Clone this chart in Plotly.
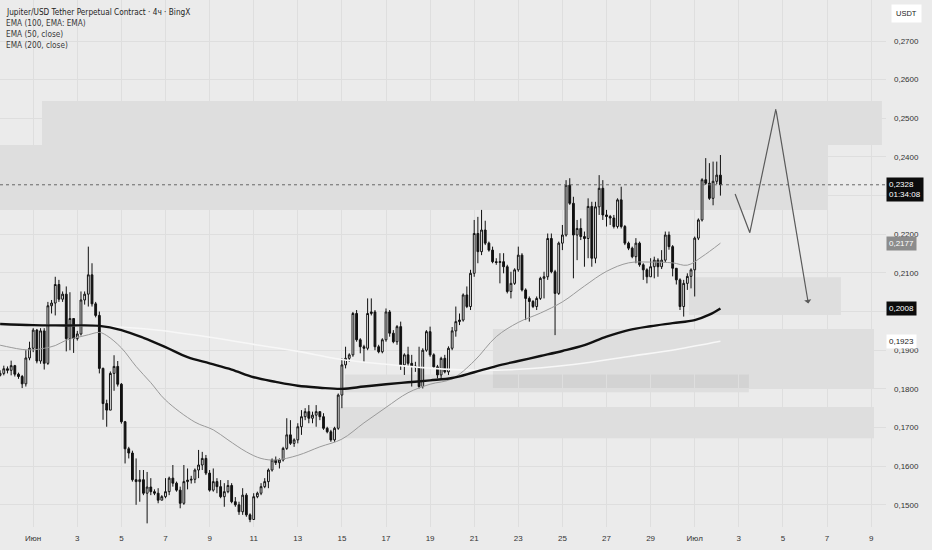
import pandas as pd
import plotly.graph_objects as go

# ── Data: JUP/USDT perp, 4h candles ───────────────────────────────────────────
start = "2024-05-30 12:00"
first_open = 0.1835

closes = [
    0.1840, 0.1852, 0.1848,
    0.1860, 0.1838, 0.1832, 0.1813, 0.1880, 0.1905,
    0.1952, 0.1872, 0.1950, 0.1866, 0.2015, 0.2022,
    0.2070, 0.2032, 0.2045, 0.1930, 0.1982, 0.1930,
    0.1942, 0.2030, 0.2045, 0.2095, 0.2020, 0.1990,
    0.1853, 0.1762, 0.1745, 0.1840, 0.1858, 0.1812,
    0.1715, 0.1645, 0.1634, 0.1565, 0.1560, 0.1565,
    0.1530, 0.1546, 0.1534, 0.1530, 0.1512, 0.1521,
    0.1534, 0.1569, 0.1556, 0.1538, 0.1504, 0.1560,
    0.1564, 0.1566, 0.1590, 0.1603, 0.1620, 0.1582,
    0.1538, 0.1560, 0.1547, 0.1521, 0.1534, 0.1550,
    0.1508, 0.1500, 0.1482, 0.1525, 0.1474, 0.1462,
    0.1521, 0.1530, 0.1547, 0.1560, 0.1590, 0.1616,
    0.1609, 0.1616, 0.1646, 0.1681, 0.1659, 0.1668,
    0.1702, 0.1728, 0.1741, 0.1724, 0.1732, 0.1741,
    0.1728, 0.1698, 0.1689, 0.1668, 0.1698, 0.1784,
    0.1862, 0.1879, 0.1888, 0.1995, 0.1927, 0.1909,
    0.1905, 0.1995, 0.1999, 0.1909, 0.1896, 0.1927,
    0.1999, 0.1944, 0.1922, 0.1961, 0.1862, 0.1888,
    0.1866, 0.1859, 0.1857, 0.1806, 0.1900, 0.1948,
    0.1888, 0.1857, 0.1836, 0.1879, 0.1844, 0.1905,
    0.1950, 0.1974, 0.1978, 0.2043, 0.2013, 0.2099,
    0.2202, 0.2155, 0.2211, 0.2177, 0.2159, 0.2129,
    0.2127, 0.2129, 0.2116, 0.2052, 0.2073, 0.2108,
    0.2146, 0.2056, 0.2034, 0.2026, 0.2013, 0.2034,
    0.2086, 0.2090, 0.2189, 0.2103, 0.2047, 0.2177,
    0.2198, 0.2327, 0.2280, 0.2198, 0.2215, 0.2194,
    0.2189, 0.2272, 0.2138, 0.2271, 0.2319, 0.2250,
    0.2246, 0.2242, 0.2220, 0.2289, 0.2220, 0.2177,
    0.2164, 0.2142, 0.2177, 0.2121, 0.2108, 0.2090,
    0.2116, 0.2133, 0.2116, 0.2133, 0.2198, 0.2168,
    0.2112, 0.2082, 0.2013, 0.2073, 0.2091, 0.2108,
    0.2190, 0.2237, 0.2341, 0.2332, 0.2293, 0.2337,
    0.2353, 0.2328,
]

highs = [
    0.1848, 0.1860, 0.1858,
    0.1873, 0.1862, 0.1842, 0.1836, 0.1900, 0.1922,
    0.1957, 0.1955, 0.1957, 0.1957, 0.2025, 0.2030,
    0.2090, 0.2082, 0.2052, 0.2065, 0.2050, 0.1982,
    0.1950, 0.2052, 0.2052, 0.2168, 0.2125, 0.2025,
    0.2000, 0.1855, 0.1772, 0.1845, 0.1887, 0.1872,
    0.1815, 0.1717, 0.1650, 0.1640, 0.1620, 0.1590,
    0.1590, 0.1585, 0.1569, 0.1540, 0.1543, 0.1525,
    0.1569, 0.1573, 0.1603, 0.1560, 0.1547, 0.1603,
    0.1594, 0.1575, 0.1594, 0.1642, 0.1637, 0.1629,
    0.1590, 0.1594, 0.1569, 0.1564, 0.1556, 0.1564,
    0.1556, 0.1520, 0.1508, 0.1543, 0.1530, 0.1478,
    0.1530, 0.1534, 0.1556, 0.1569, 0.1594, 0.1620,
    0.1625, 0.1620, 0.1650, 0.1724, 0.1719, 0.1672,
    0.1711, 0.1745, 0.1750, 0.1758, 0.1741, 0.1758,
    0.1741, 0.1737, 0.1702, 0.1694, 0.1702, 0.1788,
    0.1879, 0.1909, 0.1892, 0.1999, 0.2004, 0.1931,
    0.1914, 0.2034, 0.2034, 0.2004, 0.1914, 0.1931,
    0.2008, 0.2004, 0.1952, 0.1965, 0.1974, 0.1892,
    0.1909, 0.1888, 0.1870, 0.1909, 0.1905, 0.1952,
    0.1961, 0.1892, 0.1862, 0.1883, 0.1888, 0.1910,
    0.1960, 0.2013, 0.1995, 0.2047, 0.2065, 0.2108,
    0.2237, 0.2245, 0.2263, 0.2235, 0.2181, 0.2168,
    0.2138, 0.2151, 0.2151, 0.2121, 0.2103, 0.2112,
    0.2168, 0.2151, 0.2060, 0.2039, 0.2030, 0.2039,
    0.2090, 0.2103, 0.2202, 0.2202, 0.2108, 0.2181,
    0.2224, 0.2340, 0.2345, 0.2297, 0.2237, 0.2241,
    0.2207, 0.2293, 0.2284, 0.2284, 0.2353, 0.2340,
    0.2263, 0.2250, 0.2250, 0.2293, 0.2323, 0.2224,
    0.2181, 0.2168, 0.2190, 0.2181, 0.2125, 0.2112,
    0.2138, 0.2142, 0.2138, 0.2159, 0.2207, 0.2207,
    0.2172, 0.2112, 0.2086, 0.2082, 0.2099, 0.2112,
    0.2194, 0.2241, 0.2345, 0.2397, 0.2384, 0.2388,
    0.2388, 0.2405,
]

lows = [
    0.1832, 0.1835, 0.1840,
    0.1835, 0.1832, 0.1826, 0.1802, 0.1806, 0.1874,
    0.1895, 0.1866, 0.1865, 0.1850, 0.1862, 0.1995,
    0.1990, 0.2025, 0.2025, 0.1897, 0.1900, 0.1893,
    0.1925, 0.1938, 0.2018, 0.2013, 0.2013, 0.1985,
    0.1840, 0.1720, 0.1702, 0.1745, 0.1795, 0.1806,
    0.1710, 0.1607, 0.1620, 0.1560, 0.1500, 0.1508,
    0.1525, 0.1452, 0.1525, 0.1525, 0.1504, 0.1512,
    0.1517, 0.1525, 0.1547, 0.1534, 0.1491, 0.1500,
    0.1540, 0.1555, 0.1556, 0.1569, 0.1590, 0.1577,
    0.1534, 0.1534, 0.1530, 0.1517, 0.1495, 0.1530,
    0.1504, 0.1495, 0.1474, 0.1474, 0.1469, 0.1455,
    0.1461, 0.1517, 0.1525, 0.1543, 0.1543, 0.1586,
    0.1603, 0.1594, 0.1612, 0.1642, 0.1655, 0.1650,
    0.1659, 0.1681, 0.1719, 0.1711, 0.1711, 0.1702,
    0.1719, 0.1694, 0.1685, 0.1663, 0.1663, 0.1694,
    0.1750, 0.1853, 0.1870, 0.1883, 0.1922, 0.1892,
    0.1870, 0.1900, 0.1990, 0.1900, 0.1892, 0.1892,
    0.1922, 0.1935, 0.1918, 0.1914, 0.1849, 0.1836,
    0.1857, 0.1806, 0.1844, 0.1801, 0.1801, 0.1896,
    0.1883, 0.1853, 0.1827, 0.1823, 0.1840, 0.1836,
    0.1900, 0.1935, 0.1965, 0.1974, 0.2009, 0.2004,
    0.2090, 0.2125, 0.2146, 0.2172, 0.2155, 0.2125,
    0.2121, 0.2073, 0.2099, 0.2047, 0.2034, 0.2069,
    0.2103, 0.2052, 0.1978, 0.1974, 0.2009, 0.2004,
    0.2030, 0.2034, 0.2082, 0.2099, 0.1939, 0.2043,
    0.2159, 0.2194, 0.2276, 0.2086, 0.2133, 0.2185,
    0.2116, 0.2138, 0.2116, 0.2125, 0.2250, 0.2237,
    0.2220, 0.2224, 0.2215, 0.2215, 0.2215, 0.2172,
    0.2159, 0.2138, 0.2125, 0.2116, 0.2082, 0.2073,
    0.2090, 0.2086, 0.2090, 0.2110, 0.2128, 0.2160,
    0.2091, 0.2070, 0.2004, 0.1987, 0.2056, 0.2060,
    0.2039, 0.2185, 0.2233, 0.2328, 0.2289, 0.2275,
    0.2330, 0.2300,
]

# EMA values at some bars (bar index from the first candle)
ema100_bar = [0, 9, 18, 27, 33, 39, 45, 51, 57, 63, 69, 75, 81, 87, 93, 99, 105,
              111, 117, 123, 129, 135, 141, 147, 153, 159, 165, 171, 177, 183, 189, 193, 196]
ema100 = [0.1968, 0.1965, 0.1964, 0.1963, 0.1952, 0.1932, 0.1908, 0.1882, 0.1866,
          0.1850, 0.1830, 0.1818, 0.1808, 0.1803, 0.1800, 0.1806, 0.1812, 0.1817,
          0.1822, 0.1828, 0.1843, 0.1859, 0.1872, 0.1885, 0.1898, 0.1913, 0.1935,
          0.1952, 0.1962, 0.1970, 0.1978, 0.1992, 0.2008]

ema50_bar = [0, 3, 6, 9, 12, 15, 18, 21, 24, 27, 29, 33, 37, 41, 45, 53, 58, 62,
             67, 71, 75, 81, 87, 93, 99, 105, 111, 117, 123, 129, 135, 141, 147,
             153, 159, 165, 171, 177, 183, 187, 191, 196]
ema50 = [0.1913, 0.1907, 0.1902, 0.1901, 0.1905, 0.1912, 0.1926, 0.1933, 0.1940,
         0.1946, 0.1938, 0.1906, 0.1858, 0.1816, 0.1771, 0.1714, 0.1694, 0.1668,
         0.1637, 0.1620, 0.1616, 0.1628, 0.1650, 0.1670, 0.1712, 0.1752, 0.1790,
         0.1812, 0.1826, 0.1872, 0.1935, 0.1972, 0.1996, 0.2025, 0.2066, 0.2104,
         0.2126, 0.2128, 0.2126, 0.2120, 0.2142, 0.2177]

ema200_bar = [0, 27, 40, 54, 69, 81, 93, 109, 125, 140, 156, 172, 184, 196]
ema200 = [0.1966, 0.1962, 0.1955, 0.1938, 0.1915, 0.1897, 0.1876, 0.1860, 0.1849,
          0.1850, 0.1863, 0.1885, 0.1902, 0.1923]

# drawn zones (time from, time to, price low, price high)
zone_from = ["2024-06-01 09:35", "2024-05-29 00:00", "2024-06-30 17:45",
             "2024-06-21 20:25", "2024-06-15 03:20", "2024-06-14 21:50"]
zone_to = ["2024-07-09 11:50", "2024-07-07 01:00", "2024-07-07 15:10",
           "2024-07-09 03:10", "2024-07-03 11:00", "2024-07-09 03:10"]
zone_low = [0.2431, 0.2263, 0.1991, 0.1800, 0.1791, 0.1672]
zone_high = [0.2545, 0.2431, 0.2089, 0.1955, 0.1837, 0.1753]

# projected path drawing
path_time = ["2024-07-02 20:00", "2024-07-03 12:00", "2024-07-04 16:20", "2024-07-06 03:40"]
path_price = [0.2304, 0.2204, 0.2524, 0.2021]

x_tickvals = ["2024-06-01", "2024-06-03", "2024-06-05", "2024-06-07", "2024-06-09",
              "2024-06-11", "2024-06-13", "2024-06-15", "2024-06-17", "2024-06-19",
              "2024-06-21", "2024-06-23", "2024-06-25", "2024-06-27", "2024-06-29",
              "2024-07-01", "2024-07-03", "2024-07-05", "2024-07-07", "2024-07-09"]
x_ticktext = ["Июн", "3", "5", "7", "9", "11", "13", "15", "17", "19", "21", "23",
              "25", "27", "29", "Июл", "3", "5", "7", "9"]
y_tickvals = [0.15, 0.16, 0.17, 0.18, 0.19, 0.20, 0.21, 0.22, 0.23, 0.24, 0.25, 0.26, 0.27]
# 0,2000 and 0,2300 sit under the price tags on the scale
y_ticktext = ["0,1500", "0,1600", "0,1700", "0,1800", "0,1900", "", "0,2100", "0,2200",
              "", "0,2400", "0,2500", "0,2600", "0,2700"]

legend_lines = ["Jupiter/USD Tether Perpetual Contract · 4ч · BingX",
                "EMA (100, EMA: EMA)", "EMA (50, close)", "EMA (200, close)"]

# ── Build ─────────────────────────────────────────────────────────────────────
times = pd.date_range(start, periods=len(closes), freq="4h")
opens = [first_open] + closes[:-1]

BG = "#ebebeb"
GRID = "#dedede"
TXT = "#333333"
FONT = "Liberation Sans, Arial, sans-serif"
NARROW = "DejaVu Sans Condensed, Liberation Sans, sans-serif"

fig = go.Figure()

for t0, t1, lo, hi in zip(zone_from, zone_to, zone_low, zone_high):
    fig.add_shape(type="rect", xref="x", yref="y", x0=t0, x1=t1, y0=lo, y1=hi,
                  fillcolor="rgba(140,140,140,0.13)", line_width=0, layer="below")

fig.add_candlestick(
    x=times, open=opens, high=highs, low=lows, close=closes,
    increasing=dict(fillcolor="#ffffff", line=dict(color="#111111", width=1)),
    decreasing=dict(fillcolor="#111111", line=dict(color="#111111", width=1)),
    whiskerwidth=0, showlegend=False, hoverinfo="skip",
)

fig.add_scatter(x=[times[i] for i in ema200_bar], y=ema200, mode="lines",
                line=dict(color="#f7f7f7", width=1.6, shape="spline"), showlegend=False)
fig.add_scatter(x=[times[i] for i in ema50_bar], y=ema50, mode="lines",
                line=dict(color="#9a9a9a", width=1, shape="spline"), showlegend=False)
fig.add_scatter(x=[times[i] for i in ema100_bar], y=ema100, mode="lines",
                line=dict(color="#111111", width=2.4, shape="spline"), showlegend=False)

# projected path + arrow on the last leg
fig.add_scatter(x=path_time[:3], y=path_price[:3], mode="lines",
                line=dict(color="#5a5a5a", width=1.2), showlegend=False)
fig.add_annotation(x=path_time[3], y=path_price[3], ax=path_time[2], ay=path_price[2],
                   xref="x", yref="y", axref="x", ayref="y", text="", showarrow=True,
                   arrowhead=1, arrowsize=1, arrowwidth=1.2, arrowcolor="#5a5a5a")

# last price dotted line
fig.add_shape(type="line", xref="paper", yref="y", x0=0, x1=1,
              y0=closes[-1], y1=closes[-1], line=dict(color="#666666", width=1, dash="dot"))

# legend text top-left
for i, line in enumerate(legend_lines):
    fig.add_annotation(xref="paper", yref="paper", x=0, y=1, xanchor="left", yanchor="middle",
                       xshift=4, yshift=-11.5 - 11.3 * i, text=line, showarrow=False,
                       font=dict(family=NARROW, size=8.2, color="#1e1e1e" if i == 0 else "#3a3a3a"))

# price labels on the right scale
def price_tag(price, text, bg, fg, yshift=0):
    fig.add_annotation(xref="paper", yref="y", x=1, y=price, xanchor="left", yanchor="middle",
                       xshift=0, yshift=yshift, text=text, showarrow=False, bgcolor=bg,
                       borderpad=2, align="left", font=dict(family=FONT, size=8, color=fg))

price_tag(closes[-1], "0,2328<br>01:34:08", "#0c0c0c", "#ffffff", yshift=-5)
price_tag(ema50[-1], "0,2177", "#8c8c8c", "#ffffff")
price_tag(ema100[-1], "0,2008", "#0c0c0c", "#ffffff")
price_tag(ema200[-1], "0,1923", "#ffffff", "#222222")

fig.add_annotation(xref="paper", yref="paper", x=1, y=1, xanchor="left", yanchor="top",
                   xshift=5, yshift=-4, text="USDT", showarrow=False, bgcolor="#ffffff",
                   borderpad=4, font=dict(family=FONT, size=7.5, color="#222222"))

fig.update_xaxes(
    type="date", range=["2024-05-30 11:52", "2024-07-09 16:13"],
    tickvals=x_tickvals, ticktext=x_ticktext, showgrid=True, gridcolor=GRID, gridwidth=1,
    zeroline=False, showline=False, ticks="", rangeslider_visible=False,
    ticklabelstandoff=5, tickfont=dict(family=FONT, size=8, color=TXT),
)
fig.update_yaxes(
    side="right", range=[0.14426, 0.28061], tickvals=y_tickvals, ticktext=y_ticktext,
    showgrid=True, gridcolor=GRID, gridwidth=1, zeroline=False, showline=False, ticks="",
    ticklabelstandoff=7, tickfont=dict(family=FONT, size=8, color=TXT),
)
fig.update_layout(
    width=932, height=550, margin=dict(l=0, r=46, t=0, b=23),
    paper_bgcolor=BG, plot_bgcolor=BG, showlegend=False, hovermode=False,
)

# drop the page's default body margin so the figure sits at the window corner
fig.write_html("out.html", config={"displayModeBar": False},
               post_script="document.body.style.margin='0';"
                           "document.body.style.overflow='hidden';")
